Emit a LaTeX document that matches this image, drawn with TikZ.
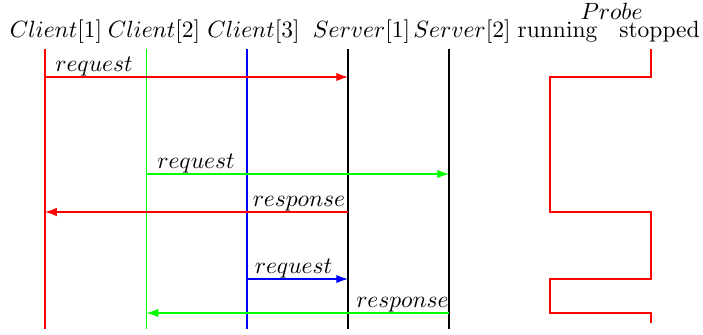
\documentclass[tikz,border=0pt]{standalone}
\usetikzlibrary{arrows.meta}
\begin{document}
\begin{tikzpicture}
[
x=0.4255pt, y=-0.4255pt,
line width=0.5pt,
Head/.style={anchor=base, inner sep=0pt},
Lifeline/.style={-, draw=black},
Message/.style={-{Latex[length=5pt,width=3.6pt]}},
Label/.style={anchor=south, inner sep=0pt},
Signal/.style={-, draw=red}
]

\useasboundingbox (0,0) rectangle (703,335);

% heads
\node[Head] (client1) at (56,37.5)    {$Client[1]$};
\node[Head] (client2) at (154,37.5)   {$Client[2]$};
\node[Head] (client3) at (253.5,37.5) {$Client[3]$};
\node[Head] (server1) at (361.5,37.5) {$Server[1]$};
\node[Head] (server2) at (462,37.5)   {$Server[2]$};
\node[Head] (running) at (557.5,37.5) {running};
\node[Head] (stopped) at (659.5,37.5) {stopped};
\node[Head] (probe)   at (611.5,20)   {$Probe$};

% lifelines
\coordinate (c1top) at (45,49);    \coordinate (c1bot) at (45,329);
\coordinate (c2top) at (146.5,49); \coordinate (c2bot) at (146.5,329);
\coordinate (c3top) at (247,49);   \coordinate (c3bot) at (247,329);
\coordinate (s1top) at (348,49);   \coordinate (s1bot) at (348,329);
\coordinate (s2top) at (449,49);   \coordinate (s2bot) at (449,329);

\draw[Lifeline, draw=red]   (c1top)--(c1bot);
\draw[Lifeline, draw=green] (c2top)--(c2bot);
\draw[Lifeline, draw=blue]  (c3top)--(c3bot);
\draw[Lifeline]             (s1top)--(s1bot);
\draw[Lifeline]             (s2top)--(s2bot);

% messages
\coordinate (m1a) at (45,77);     \coordinate (m1b) at (348,77);
\coordinate (m2a) at (146.5,174); \coordinate (m2b) at (449,174);
\coordinate (m3a) at (348,212);   \coordinate (m3b) at (45,212);
\coordinate (m4a) at (247,279);   \coordinate (m4b) at (348,279);
\coordinate (m5a) at (449,313);   \coordinate (m5b) at (146.5,313);

\draw[Message, red]   (m1a)--(m1b);
\draw[Message, green] (m2a)--(m2b);
\draw[Message, red]   (m3a)--(m3b);
\draw[Message, blue]  (m4a)--(m4b);
\draw[Message, green] (m5a)--(m5b);

\node[Label] (req1)  at (94,77)     {$request$};
\node[Label] (req2)  at (196,174)   {$request$};
\node[Label] (resp1) at (299,212)   {$response$};
\node[Label] (req3)  at (293.5,279) {$request$};
\node[Label] (resp2) at (402.5,313) {$response$};

% probe state
\draw[Signal] (651,49) |- (550,77) |- (651,212) |- (550,279) |- (651,313) -- (651,323);
\end{tikzpicture}
\end{document}
